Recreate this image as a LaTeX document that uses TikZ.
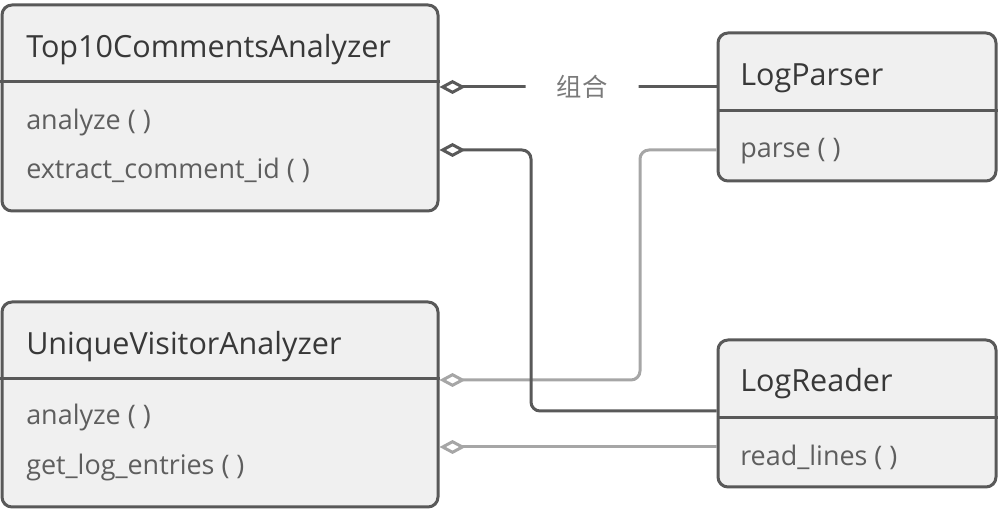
\documentclass[tikz,border=0pt]{standalone}
\usepackage{fontspec}
\setmainfont{Open Sans}
\newfontfamily\cjk{Noto Sans CJK SC}
\usetikzlibrary{arrows.meta}
\newdimen\px \px=0.75pt
\definecolor{bordc}{HTML}{595959}
\definecolor{fillc}{HTML}{F0F0F0}
\definecolor{titlec}{HTML}{383838}
\definecolor{methc}{HTML}{5E5E5E}
\definecolor{lightc}{HTML}{A6A6A6}
\definecolor{labc}{HTML}{7A7A7A}
\tikzset{
  classbox/.style={draw=bordc, fill=fillc, line width=2.25pt, rounded corners=7.5pt, inner sep=0pt},
  divider/.style={draw=bordc, line width=2.25pt},
  titletext/.style={anchor=west, inner sep=0pt, yshift=-2.25pt, text=titlec, font=\fontsize{22.9pt}{26pt}\selectfont},
  methtext/.style={anchor=west, inner sep=0pt, yshift=-2.25pt, text=methc, font=\fontsize{20.2pt}{24pt}\selectfont},
  darkconn/.style={draw=bordc, line width=2.25pt, rounded corners=6.75pt, {Diamond[open, length=19.5pt, width=10.5pt, line width=2.25pt]}-},
  lightconn/.style={draw=lightc, line width=2.25pt, rounded corners=6.75pt, {Diamond[open, length=19.5pt, width=10.5pt, line width=2.25pt]}-},
  lab/.style={fill=white, text=labc, font=\cjk\fontsize{19pt}{22pt}\selectfont, minimum width=84.75pt, inner ysep=2pt}
}
\begin{document}
\begin{tikzpicture}[x=0.75pt, y=-0.75pt]
\useasboundingbox (0,0) rectangle (1001,513);
% boxes
\node[classbox, minimum width=436\px, minimum height=206\px] (top) at (220,108) {};
\node[classbox, minimum width=436\px, minimum height=205\px] (uva) at (220,404.5) {};
\node[classbox, minimum width=278\px, minimum height=148\px] (parser) at (857,107) {};
\node[classbox, minimum width=278\px, minimum height=147\px] (reader) at (857,413.5) {};
% dividers
\coordinate (d1) at (0,82);
\coordinate (d2) at (0,379);
\coordinate (d3) at (0,111);
\coordinate (d4) at (0,418);
\draw[divider] (top.west |- d1) -- (top.east |- d1);
\draw[divider] (uva.west |- d2) -- (uva.east |- d2);
\draw[divider] (parser.west |- d3) -- (parser.east |- d3);
\draw[divider] (reader.west |- d4) -- (reader.east |- d4);
% texts
\node[titletext] (t1) at (26,47) {Top10CommentsAnalyzer};
\node[methtext] (m11) at (26,120) {analyze ( )};
\node[methtext] (m12) at (26,167) {extract\_comment\_id ( )};
\node[titletext] (t2) at (26,344) {UniqueVisitorAnalyzer};
\node[methtext] (m21) at (26,415) {analyze ( )};
\node[methtext] (m22) at (26,465) {get\_log\_entries ( )};
\node[titletext] (t3) at (740,75) {LogParser};
\node[methtext] (m31) at (740,148) {parse ( )};
\node[titletext] (t4) at (740,381) {LogReader};
\node[methtext] (m41) at (740,454) {read\_lines ( )};
% connectors
\coordinate (y1) at (0,87);
\coordinate (c3a) at (640,380);
\coordinate (c3b) at (640,150);
\coordinate (y4) at (0,447);
\coordinate (c2a) at (531,150);
\coordinate (c2b) at (531,411);
\draw[lightconn] (uva.east |- c3a) -- (c3a) -- (c3b) -- (parser.west |- c3b);
\draw[lightconn] (uva.east |- y4) -- (reader.west |- y4);
\draw[darkconn] (top.east |- c2a) -- (c2a) -- (c2b) -- (reader.west |- c2b);
\draw[darkconn] (top.east |- y1) -- (parser.west |- y1) node[lab, pos=0.515] (l1) {组合};
\end{tikzpicture}
\end{document}
